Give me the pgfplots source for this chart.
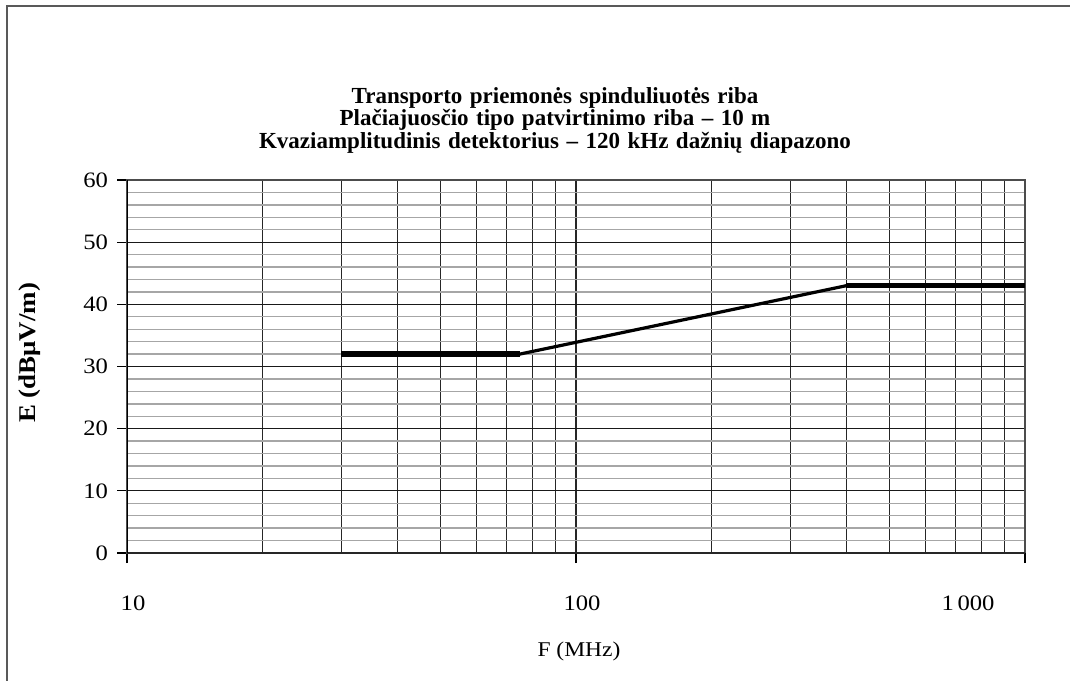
\documentclass[border=0pt]{standalone}
\usepackage{fontspec}
\setmainfont{Liberation Serif}
\newfontfamily\tickfont[FakeStretch=1.12]{Liberation Serif}
\newfontfamily\titlefont[WordSpace=1.3]{Liberation Serif}
\usepackage{pgfplots}
\pgfplotsset{compat=1.18}
\begin{document}
\begin{tikzpicture}
% page = 1070x680 px, 1 px = 0.5pt, axis box from (127,180) to (1025,553) px
\useasboundingbox (-63.5pt,-63.5pt) rectangle (471.5pt,276.5pt);
\draw[line width=1pt, black!65] (-60pt,-64pt) -- (-60pt,273.5pt) -- (472pt,273.5pt);
\begin{axis}[
    at={(0,0)}, anchor=south west,
    scale only axis,
    width=449pt, height=186.5pt,
    xmode=log, log basis x=10,
    xmin=10, xmax=1000,
    ymin=0, ymax=60,
    xtick={10,100}, xticklabels={10,100},
    extra x ticks={1000}, extra x tick labels={1\,000},
    extra x tick style={grid=none, xticklabel style={xshift=-31.5pt}},
    minor xtick={20,30,40,50,60,70,80,90,200,300,400,500,600,700,800,900},
    ytick={0,10,20,30,40,50,60},
    minor ytick={2,4,6,8,12,14,16,18,22,24,26,28,32,34,36,38,42,44,46,48,52,54,56,58},
    xtick pos=lower, ytick pos=left,
    tick align=outside,
    major tick length=5pt, minor tick length=0pt,
    tick style={black, line width=0.6pt},
    xmajorgrids, xminorgrids, ymajorgrids, yminorgrids,
    major x grid style={black!85, line width=0.6pt},
    minor x grid style={black!85, line width=0.6pt},
    major y grid style={black!90, line width=0.6pt},
    minor y grid style={black!35, line width=0.7pt},
    axis line style={black!70, line width=0.6pt},
    /pgf/number format/assume math mode=true,
    ticklabel style={font=\tickfont\fontsize{11}{13}\selectfont},
    xticklabel style={anchor=north, yshift=-13pt, xshift=3pt},
    yticklabel style={xshift=-1pt},
]
\addplot[black, line width=2.6pt] coordinates {(30,32) (75,32)};
\addplot[black, line width=1.6pt] coordinates {(75,32) (400,43)};
\addplot[black, line width=2.2pt] coordinates {(400,43) (1000,43)};
\draw[black!85, line width=1.4pt] (rel axis cs:0,0) -- (rel axis cs:1,0);
\draw[black, line width=0.8pt] (rel axis cs:0,0) -- (rel axis cs:0,1);
\end{axis}
\node[align=center, font=\titlefont\bfseries\fontsize{11.5}{11.25}\selectfont] at (214pt,216.5pt)
  {Transporto priemonės spinduliuotės riba\\
   Plačiajuosčio tipo patvirtinimo riba – 10 m\\
   Kvaziamplitudinis detektorius – 120 kHz dažnių diapazono};
\node[rotate=90, font=\tickfont\bfseries\fontsize{12}{14}\selectfont] at (-48.5pt,100pt) {E (dBμV/m)};
\node[font=\tickfont\fontsize{10.5}{13}\selectfont] at (226pt,-49pt) {F (MHz)};
\end{tikzpicture}
\end{document}
